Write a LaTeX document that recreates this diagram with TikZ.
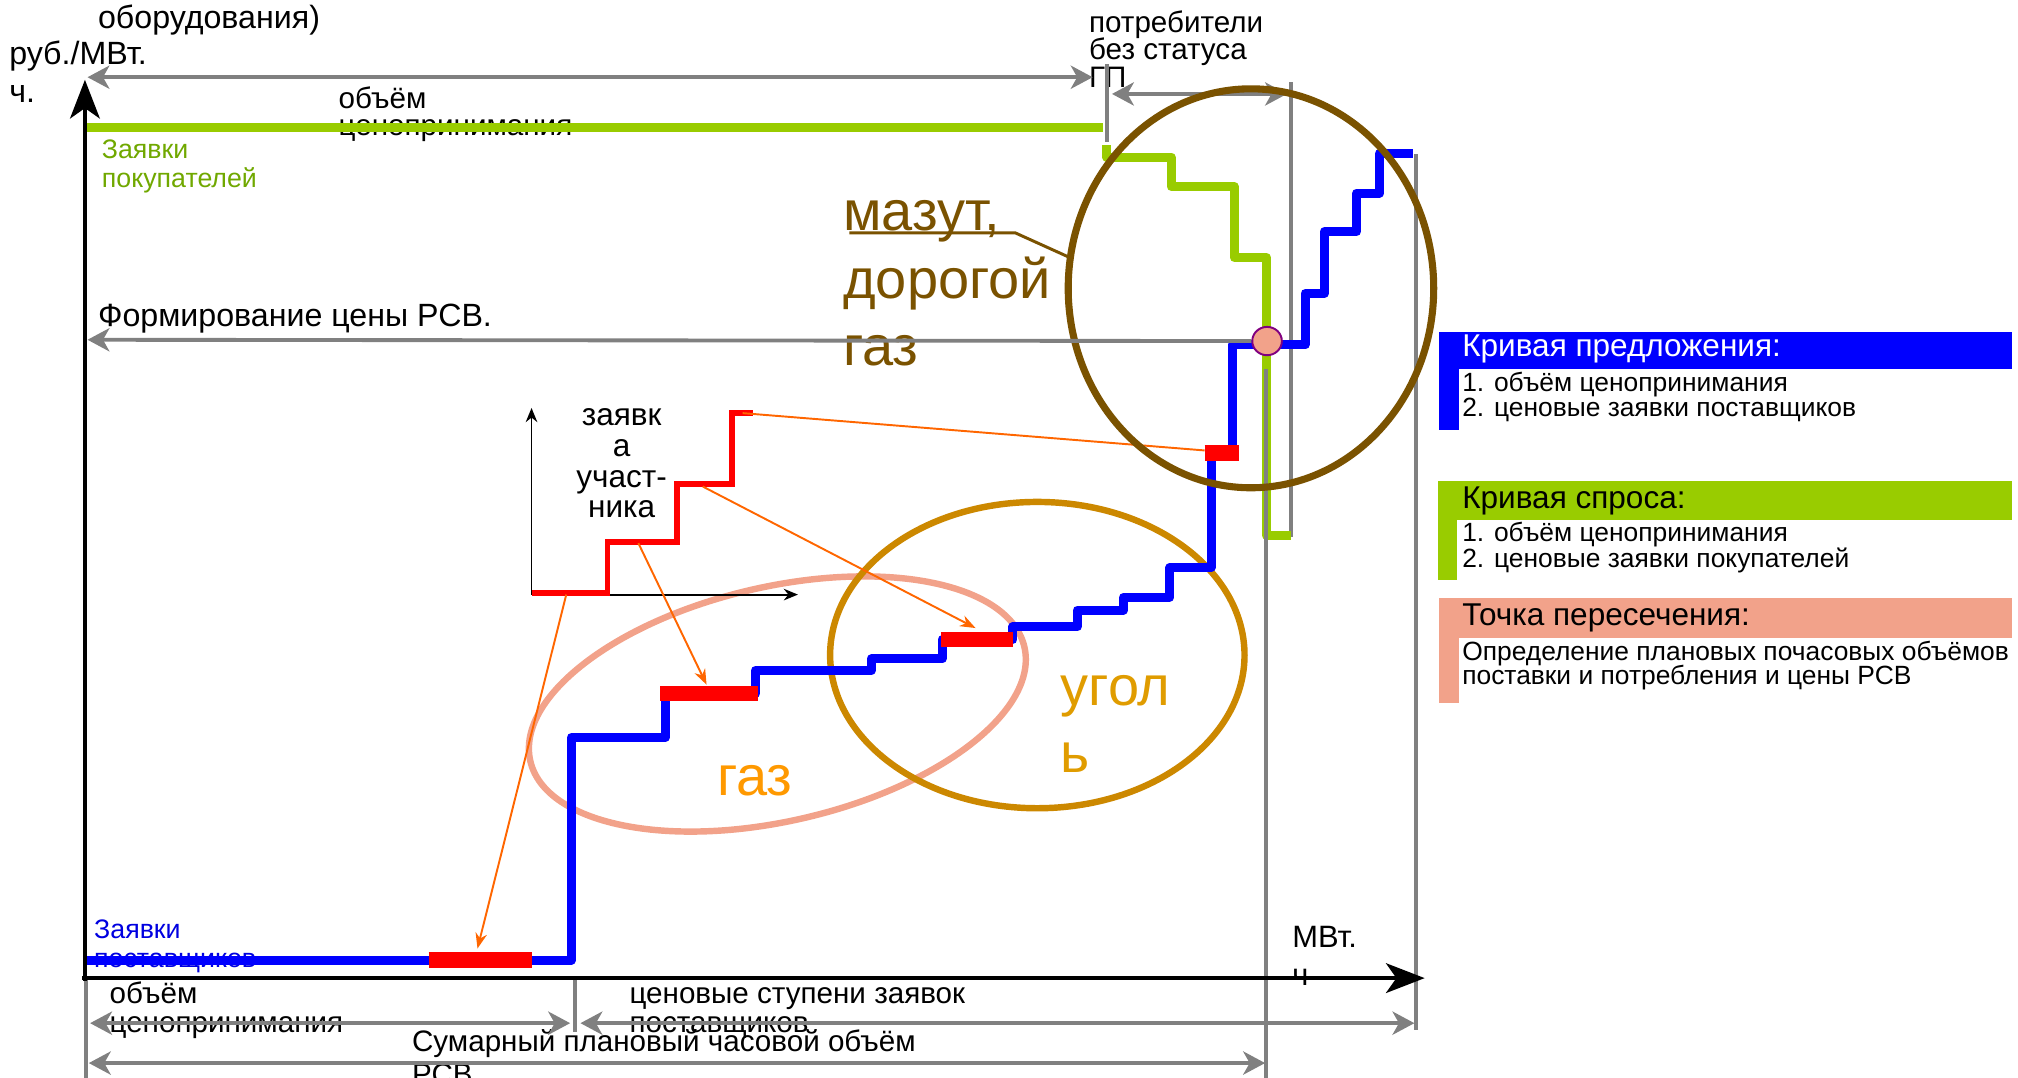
\documentclass[tikz,border=0pt]{standalone}
\usepackage{fontspec}
\setmainfont{Liberation Sans}
\usetikzlibrary{arrows.meta,shapes.geometric}
\definecolor{cblue}{HTML}{0000FF}
\definecolor{cgreen}{HTML}{99CC00}
\definecolor{cgray}{HTML}{808080}
\definecolor{cred}{HTML}{FF0000}
\definecolor{cbrown}{HTML}{7A5200}
\definecolor{cgold}{HTML}{CC8800}
\definecolor{csalmon}{HTML}{F2A28A}
\definecolor{corange}{HTML}{FF6600}
\definecolor{cgas}{HTML}{FF9900}
\definecolor{ccoal}{HTML}{E09C00}
\definecolor{cgtext}{HTML}{70A800}
\definecolor{cbtext}{HTML}{0000E0}
\definecolor{cpurple}{HTML}{800080}
\newcommand\myfs[1]{\fontsize{#1}{#1}\selectfont}
\begin{document}
\begin{tikzpicture}[x=1pt,y=-1pt,
  t/.style={anchor=base west,inner sep=0pt,font=\myfs{23}},
  tw/.style={anchor=base west,inner sep=0pt,font=\myfs{25}},
  tc/.style={anchor=base,inner sep=0pt,font=\myfs{24.5}},
  ts/.style={anchor=base west,inner sep=0pt,font=\myfs{20.8}},
  tl/.style={anchor=base west,inner sep=0pt,font=\myfs{20.5}},
  tt/.style={anchor=base west,inner sep=0pt,font=\myfs{24.5}},
  tbig/.style={anchor=base west,inner sep=0pt,font=\myfs{43.5}},
  garrow/.style={draw=cgray,line width=3pt,{Stealth[length=17pt,width=18pt,inset=5pt]}-{Stealth[length=17pt,width=18pt,inset=5pt]}},
  garrowl/.style={draw=cgray,line width=3pt,-{Stealth[length=17pt,width=18pt,inset=5pt]}},
  gline/.style={draw=cgray,line width=3pt},
  blueline/.style={draw=cblue,line width=7pt,line join=round},
  greenline/.style={draw=cgreen,line width=7pt,line join=round},
  redbar/.style={draw=cred,line width=12pt},
  redline/.style={draw=cred,line width=4.5pt,line join=miter},
  oarrow/.style={draw=corange,line width=1.5pt,-{Stealth[length=12pt,width=9pt]}},
  oline/.style={draw=corange,line width=1.5pt},
  axisline/.style={draw=black,line width=3.5pt,-{Stealth[length=30pt,width=23pt,inset=8pt]}},
  iaxis/.style={draw=black,line width=1.5pt,-{Stealth[length=11pt,width=9pt]}},
]
\useasboundingbox (0,0) rectangle (1568,837);

% ---------- coordinates ----------
\coordinate (O) at (66,760);
\coordinate (Ytip) at (66,62);
\coordinate (Xtip) at (1107,760);

% ---------- ellipses (behind curves) ----------
\draw[csalmon,line width=5pt,rotate around={13:(604,547)}] (604,547) ellipse [x radius=197pt,y radius=91pt];
\draw[cgold,line width=5pt] (806,509) ellipse [x radius=161pt,y radius=119pt];

% ---------- texts under lines ----------
\node[tw] (tob) at (76,22) {оборудования)};
\node[tw] (truba) at (7,50) {руб./МВт.};
\node[tw] (trubb) at (7,80) {ч.};
\node[t] (tv1a) at (263,84) {объём};
\node[t] (tv1b) at (263,105) {ценопринимания};
\node[t] (tp1) at (846,25) {потребители};
\node[t] (tp2) at (846,46) {без статуса};
\node[t] (tp3) at (846,68) {ГП};
\node[ts,text=cgtext] (tzp1) at (79,123) {Заявки};
\node[ts,text=cgtext] (tzp2) at (79,146) {покупателей};
\node[tw] (tform) at (76,254) {Формирование цены РСВ.};
\node[ts,text=cbtext] (tzs1) at (73,729) {Заявки};
\node[ts,text=cbtext] (tzs2) at (73,752) {поставщиков};
\node[t,font=\myfs{24}] (tmw1) at (1004,736) {МВт.};
\node[t,font=\myfs{24}] (tmw2) at (1004,766) {ч};
\node[t] (tb1a) at (85,780) {объём};
\node[t] (tb1b) at (85,802) {ценопринимания};
\node[t] (tb2a) at (489,780) {ценовые ступени заявок};
\node[t] (tb2b) at (489,802) {поставщиков};
\node[t] (tb3a) at (320,817) {Сумарный плановый часовой объём};
\node[t] (tb3b) at (320,843) {РСВ};

% ---------- gray guide lines and arrows ----------
\coordinate (g1a) at (68,60);  \coordinate (g1b) at (849,60);
\draw[garrow] (g1a) -- (g1b);
\coordinate (v860a) at (860,50); \coordinate (v860b) at (860,110);
\draw[gline] (v860a) -- (v860b);
\coordinate (g2a) at (864,73); \coordinate (g2b) at (1000,73);
\draw[garrow] (g2a) -- (g2b);
\coordinate (v1003a) at (1003,64); \coordinate (v1003b) at (1003,417);
\draw[gline] (v1003a) -- (v1003b);
\coordinate (v1100a) at (1100,120); \coordinate (v1100b) at (1100,800);
\draw[gline] (v1100a) -- (v1100b);
\coordinate (v67a) at (67,760); \coordinate (v67b) at (67,840);
\draw[gline] (v67a) -- (v67b);
\coordinate (v447a) at (447,760); \coordinate (v447b) at (447,802);
\draw[gline] (v447a) -- (v447b);
\coordinate (b1a) at (70,795); \coordinate (b1b) at (443,795);
\draw[garrow] (b1a) -- (b1b);
\coordinate (b2a) at (451,795); \coordinate (b2b) at (1099,795);
\draw[garrow] (b2a) -- (b2b);
\coordinate (b3a) at (69,826); \coordinate (b3b) at (983,826);
\draw[garrow] (b3a) -- (b3b);

% ---------- demand curve (green) ----------
\draw[greenline] (66,99) -- (857,99);
\draw[greenline] (860,113) -- (860,122) -- (910,122) -- (910,145) -- (959,145) -- (959,200) -- (984,200) -- (984,416) -- (1003,416);

% ---------- supply curve (blue) ----------
\draw[blueline] (66,746) -- (444,746) -- (444,573) -- (517,573) -- (517,539) -- (587,539) -- (587,521) -- (677,521) -- (677,512) -- (732,512) -- (732,497) -- (787,497) -- (787,487) -- (837,487) -- (837,474) -- (873,474) -- (873,464) -- (909,464) -- (909,441) -- (941,441) -- (941,352) -- (958,352) -- (958,268) -- (1014,268) -- (1014,228) -- (1029,228) -- (1029,180) -- (1054,180) -- (1054,150) -- (1072,150) -- (1072,119) -- (1098,119);

% red bars (participant bids)
\draw[redbar] (333,746) -- (413,746);
\draw[redbar] (513,539) -- (589,539);
\draw[redbar] (731,497) -- (787,497);
\draw[redbar] (936,352) -- (963,352);
\coordinate (rb1) at (371,737);
\coordinate (rb2) at (549,532);
\coordinate (rb3) at (758,488);
\coordinate (rb4) at (936,350);

% gray vertical through intersection (over green)
\coordinate (v984a) at (984,287); \coordinate (v984b) at (984,840);
\draw[gline] (v984a) -- (v984b);

% ---------- axes ----------
\draw[axisline] (66,762) -- (Ytip);
\draw[axisline] (64,760) -- (Xtip);

% ---------- inset ----------
\coordinate (iO) at (413,462);
\coordinate (iY) at (413,317);
\coordinate (iX) at (620,462);
\draw[iaxis] (iO) -- (iY);
\draw[iaxis] (iO) -- (iX);
\draw[redline] (413,461) -- (472,461) -- (472,421) -- (526,421) -- (526,376) -- (569,376) -- (569,321) -- (585,321);
\node[tc] (iz1) at (483,331) {заявк};
\node[tc] (iz2) at (483,355) {а};
\node[tc] (iz3) at (483,379) {участ-};
\node[tc] (iz4) at (483,402) {ника};
\coordinate (os1) at (440,462);
\coordinate (os2) at (496,422);
\coordinate (os3) at (546,378);
\coordinate (os4) at (577,321);
\draw[oarrow] (os1) -- (rb1);
\draw[oarrow] (os2) -- (rb2);
\draw[oarrow] (os3) -- (rb3);
\draw[oline] (os4) -- (rb4);

% ---------- brown ellipse and label ----------
\draw[cbrown,line width=5.5pt] (972,224) ellipse [x radius=142pt,y radius=155pt];
\node[tbig,text=cbrown] (tm1) at (655,179) {мазут,};
\node[tbig,text=cbrown] (tm2) at (655,232) {дорогой};
\node[tbig,text=cbrown] (tm3) at (655,284) {газ};
\coordinate (mu1) at (660,181);
\coordinate (mu2) at (789,181);
\coordinate (mu3) at (831,200);
\draw[cbrown,line width=2.3pt] (mu1) -- (mu2) -- (mu3);

\node[tbig,text=cgas] (tgas) at (557,618) {газ};
\node[tbig,text=ccoal] (tc1) at (824,548) {угол};
\node[tbig,text=ccoal] (tc2) at (824,600) {ь};

% ---------- intersection point ----------
\node[ellipse,draw=cpurple,fill=csalmon,line width=1.5pt,minimum width=23pt,minimum height=22pt,inner sep=0pt] (cross) at (984.5,265) {};
\coordinate (yprice) at (68,264);
\draw[garrowl] (cross.west) -- (yprice);

% ---------- legend ----------
\fill[cblue] (1118,258) rectangle (1563,287);
\fill[cblue] (1118,258) rectangle (1134,334);
\node[tt,text=white] (l1t) at (1136,277) {Кривая предложения:};
\node[tl] (l1a) at (1136,304) {1. объём ценопринимания};
\node[tl] (l1b) at (1136,324) {2. ценовые заявки поставщиков};

\fill[cgreen] (1117,374) rectangle (1563,404);
\fill[cgreen] (1117,374) rectangle (1132,451);
\node[tt] (l2t) at (1136,395) {Кривая спроса:};
\node[tl] (l2a) at (1136,421) {1. объём ценопринимания};
\node[tl] (l2b) at (1136,441) {2. ценовые заявки покупателей};

\fill[csalmon] (1118,465) rectangle (1563,496);
\fill[csalmon] (1118,465) rectangle (1134,546);
\node[tt] (l3t) at (1136,486) {Точка пересечения:};
\node[tl] (l3a) at (1136,513) {Определение плановых почасовых объёмов};
\node[tl] (l3b) at (1136,532) {поставки и потребления и цены РСВ};
\end{tikzpicture}
\end{document}
